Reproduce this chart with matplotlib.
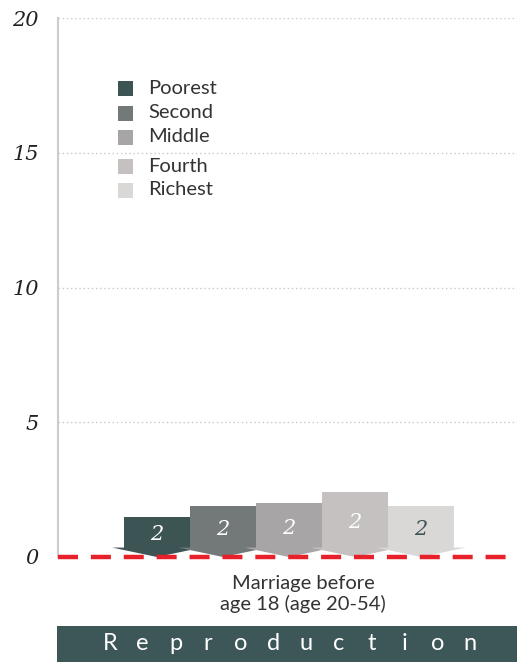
import matplotlib.pyplot as plt
from matplotlib.patches import Polygon, Rectangle

# ── Data ──────────────────────────────────────────────────────────────────────
quintiles = ["Poorest", "Second", "Middle", "Fourth", "Richest"]
values = [1.5, 1.9, 2.0, 2.4, 1.9]
value_labels = ["2", "2", "2", "2", "2"]
category = "Marriage before\nage 18 (age 20-54)"
banner = "Reproduction"
yticks = [0, 5, 10, 15, 20]

colors = ["#3d5455", "#737878", "#a7a5a6", "#c5c1c0", "#d9d8d7"]
label_colors = ["white", "white", "white", "white", "#3d5455"]

W, H = 517, 662
fig = plt.figure(figsize=(W / 100, H / 100), dpi=100, facecolor="white")
ax = fig.add_axes([58 / W, 1 - 557 / H, 1 - 58 / W, (557 - 18) / H])

ax.set_xlim(-1.5, -1.5 + 459 / 66)
ax.set_ylim(0, 20)

# gridlines
for t in yticks[1:]:
    ax.axhline(t, color="#c8c8c8", lw=1, ls=(0, (1, 2)), zorder=0)

# ── Arrow bars ────────────────────────────────────────────────────────────────
base = 0.35
half_tri = 0.68
for i, (v, c) in enumerate(zip(values, colors)):
    z = 2 + i
    ax.add_patch(Rectangle((i - 0.5, base), 1.0, v - base, facecolor=c,
                           edgecolor="none", zorder=z))
    ax.add_patch(Polygon([(i - half_tri, base), (i + half_tri, base), (i, 0)],
                         closed=True, facecolor=c, edgecolor="none", zorder=z))
    ax.text(i, (v + base) / 2 - 0.1, value_labels[i], ha="center", va="center",
            fontsize=15, style="italic", family="DejaVu Serif",
            color=label_colors[i], zorder=10)

# red dashed zero line
ax.plot([-1.5, 6], [0, 0], color="#e8202a", lw=3.2, ls=(0, (4.5, 2.9)),
        zorder=20, clip_on=False, solid_capstyle="butt")

# ── Axes styling ──────────────────────────────────────────────────────────────
for s in ["top", "right", "bottom"]:
    ax.spines[s].set_visible(False)
ax.spines["left"].set_color("#cccccc")
ax.spines["left"].set_linewidth(1.5)
ax.set_xticks([])
ax.set_yticks(yticks)
ax.set_yticklabels([str(t) for t in yticks], fontsize=15, style="italic",
                   family="DejaVu Serif", color="#222222")
ax.tick_params(axis="y", length=0, pad=14)

# ── Legend ────────────────────────────────────────────────────────────────────
leg_y = [88, 113, 137, 166, 190]
for name, c, y in zip(quintiles, colors, leg_y):
    fig.patches.append(Rectangle((118 / W, 1 - (y + 8) / H), 15 / W, 15 / H,
                                 transform=fig.transFigure, facecolor=c,
                                 edgecolor="none"))
    fig.text(148 / W, 1 - y / H, name, ha="left", va="center", fontsize=14.5,
             family="Lato", color="#333333")

# ── Category label ────────────────────────────────────────────────────────────
fig.text(303 / W, 1 - 594 / H, category, ha="center", va="center",
         fontsize=14.5, family="Lato", color="#333333", linespacing=1.15)

# ── Banner ────────────────────────────────────────────────────────────────────
fig.patches.append(Rectangle((57 / W, 0), 1 - 57 / W, 36 / H,
                             transform=fig.transFigure, facecolor="#3d5657",
                             edgecolor="none"))
n = len(banner)
for k, ch in enumerate(banner):
    x = 110 + k * (470 - 110) / (n - 1)
    fig.text(x / W, 1 - 644 / H, ch, ha="center", va="center", fontsize=17,
             family="Lato", color="white")

fig.savefig("out.png", dpi=100, facecolor="white")
